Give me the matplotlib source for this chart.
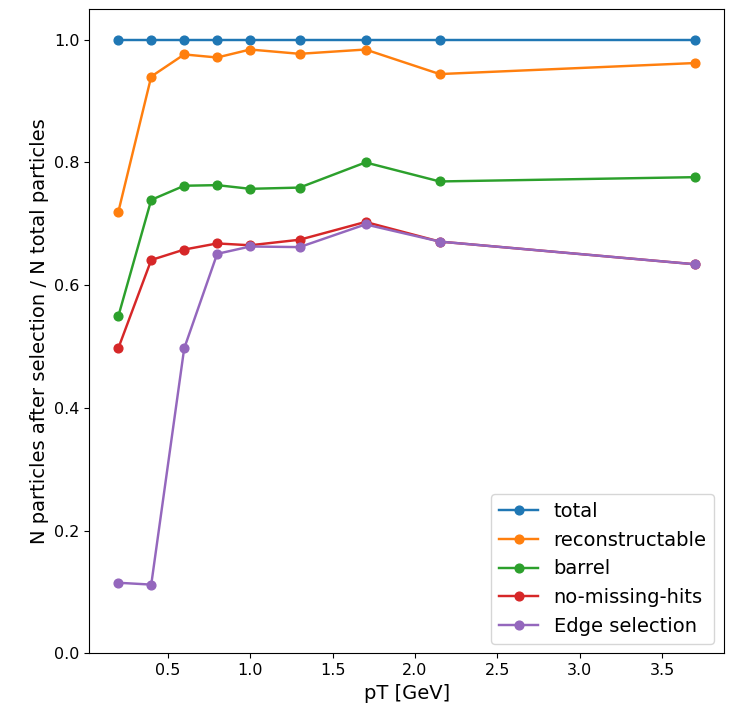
import matplotlib
matplotlib.use("Agg")
import matplotlib.pyplot as plt

pt = [0.2, 0.4, 0.6, 0.8, 1.0, 1.3, 1.7, 2.15, 3.7]
total = [1.0, 1.0, 1.0, 1.0, 1.0, 1.0, 1.0, 1.0, 1.0]
reconstructable = [0.719, 0.940, 0.976, 0.971, 0.984, 0.977, 0.984, 0.944, 0.962]
barrel = [0.549, 0.739, 0.762, 0.763, 0.757, 0.759, 0.800, 0.769, 0.776]
no_missing_hits = [0.497, 0.641, 0.658, 0.668, 0.665, 0.674, 0.703, 0.671, 0.634]
edge_selection = [0.115, 0.112, 0.497, 0.651, 0.663, 0.662, 0.699, 0.671, 0.634]

series = [
    ("total", total),
    ("reconstructable", reconstructable),
    ("barrel", barrel),
    ("no-missing-hits", no_missing_hits),
    ("Edge selection", edge_selection),
]

fig = plt.figure(figsize=(7.36, 7.05), dpi=100)
ax = fig.add_axes([0.1215, 0.0733, 0.9837 - 0.1215, 0.9872 - 0.0733])
for name, vals in series:
    ax.plot(pt, vals, marker="o", lw=1.75, ms=6.3, label=name)

ax.set_ylim(0, 1.05)
ax.set_xlabel("pT [GeV]", fontsize=14)
ax.set_ylabel("N particles after selection / N total particles", fontsize=14)
ax.tick_params(labelsize=11.5)
ax.legend(loc="lower right", fontsize=14)
fig.savefig("out.png", dpi=100)
